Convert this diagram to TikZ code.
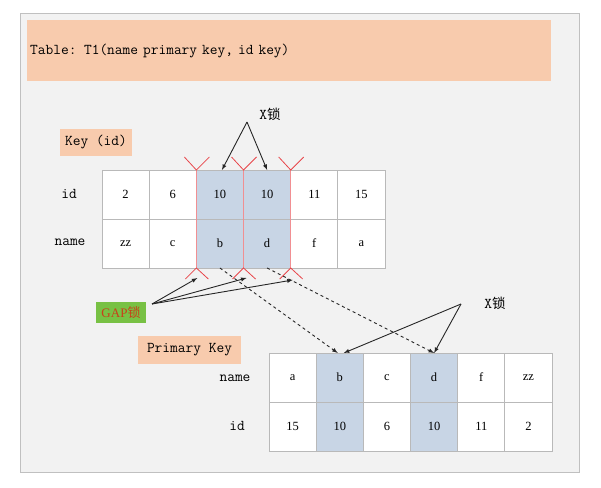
\documentclass[tikz,border=0pt]{standalone}
\usepackage{fontspec}
\setmainfont{Liberation Serif}
\newfontfamily\cjk{Noto Sans CJK SC}
\usepackage{xcolor}
\usepackage{tikz}
\usetikzlibrary{arrows,positioning,calc}

\definecolor{tagorange}{HTML}{F8CBAD}
\definecolor{hlblue}{HTML}{C8D5E5}
\definecolor{gapgreen}{HTML}{78C144}
\definecolor{gapred}{HTML}{C8401A}
\definecolor{markred}{HTML}{E8454A}
\definecolor{framebg}{HTML}{F2F2F2}
\definecolor{framegray}{HTML}{C0C0C0}

\begin{document}
\begin{tikzpicture}[
    x=1pt, y=-1pt,
    tcell/.style={rectangle, draw=gray!55, fill=white, line width=0.8pt, minimum width=47.17pt, minimum height=49pt, inner sep=0pt, outer sep=0pt, font=\fontsize{12.5}{14}\selectfont},
    hlcell/.style={tcell, fill=hlblue},
    tagbox/.style={rectangle, fill=tagorange, inner sep=3pt, font=\ttfamily\fontsize{15}{17}\selectfont},
    rowlabel/.style={inner sep=0pt, font=\ttfamily\fontsize{15}{17}\selectfont},
    gapmark/.style={draw=markred, line width=0.8pt},
    gapline/.style={draw=markred!60, line width=0.6pt},
    arrowline/.style={-latex, line width=0.9pt, black!85},
    dashline/.style={arrowline, dashed}
    ]
    \useasboundingbox (0,0) rectangle (601,487);
    \draw[draw=framegray, fill=framebg] (20,13) rectangle (579,472);

    %Tags
    \node[tagbox, anchor=north west, minimum width=524pt, minimum height=61pt, text width=518pt, align=left] (title) at (27,20) {Table: T1(name primary key, id key)};
    \node[tagbox, minimum width=72pt, minimum height=27pt] (keytag) at (96,142.5) {Key (id)};
    \node[tagbox, minimum width=103pt, minimum height=28pt] (pktag) at (189.5,350) {Primary Key};
    \node[rectangle, fill=gapgreen, minimum width=50pt, minimum height=21pt, inner sep=0pt, text=gapred, font=\fontsize{13}{15}\selectfont] (gaptag) at (121,312.5) {GAP{\cjk 锁}};
    \node[rowlabel] (xtop) at (270,114) {X{\cjk\fontsize{13.5}{15}\selectfont 锁}};
    \node[rowlabel] (xbot) at (495,303) {X{\cjk\fontsize{13.5}{15}\selectfont 锁}};

    %Key (id) table
    \node[tcell]  (kid1)   at (125.6,194.5)        {2};
    \node[tcell]  (kid2)   [right=0pt of kid1]     {6};
    \node[hlcell] (kid3)   [right=0pt of kid2]     {10};
    \node[hlcell] (kid4)   [right=0pt of kid3]     {10};
    \node[tcell]  (kid5)   [right=0pt of kid4]     {11};
    \node[tcell]  (kid6)   [right=0pt of kid5]     {15};
    \node[tcell]  (kname1) [below=0pt of kid1]     {zz};
    \node[tcell]  (kname2) [right=0pt of kname1]   {c};
    \node[hlcell] (kname3) [right=0pt of kname2]   {b};
    \node[hlcell] (kname4) [right=0pt of kname3]   {d};
    \node[tcell]  (kname5) [right=0pt of kname4]   {f};
    \node[tcell]  (kname6) [right=0pt of kname5]   {a};
    \node[rowlabel] (kidlbl)   at (69,194)  {id};
    \node[rowlabel] (knamelbl) at (70,242)  {name};

    %Primary key table
    \node[tcell]  (pname1) at (292.6,377.5)        {a};
    \node[hlcell] (pname2) [right=0pt of pname1]   {b};
    \node[tcell]  (pname3) [right=0pt of pname2]   {c};
    \node[hlcell] (pname4) [right=0pt of pname3]   {d};
    \node[tcell]  (pname5) [right=0pt of pname4]   {f};
    \node[tcell]  (pname6) [right=0pt of pname5]   {zz};
    \node[tcell]  (pid1)   [below=0pt of pname1]   {15};
    \node[hlcell] (pid2)   [right=0pt of pid1]     {10};
    \node[tcell]  (pid3)   [right=0pt of pid2]     {6};
    \node[hlcell] (pid4)   [right=0pt of pid3]     {10};
    \node[tcell]  (pid5)   [right=0pt of pid4]     {11};
    \node[tcell]  (pid6)   [right=0pt of pid5]     {2};
    \node[rowlabel] (pnamelbl) at (235,378) {name};
    \node[rowlabel] (pidlbl)   at (237,426) {id};

    %Gap marks
    \draw[gapline] (kid3.north west) -- (kname3.south west);
    \draw[gapline] (kid4.north west) -- (kname4.south west);
    \draw[gapline] (kid4.north east) -- (kname4.south east);
    \draw[gapmark] ([shift={(-12,-13)}]kid3.north west) -- (kid3.north west) -- ([shift={(13,-13)}]kid3.north west);
    \draw[gapmark] ([shift={(-12,-13)}]kid4.north west) -- (kid4.north west) -- ([shift={(13,-13)}]kid4.north west);
    \draw[gapmark] ([shift={(-12,-13)}]kid4.north east) -- (kid4.north east) -- ([shift={(13,-13)}]kid4.north east);
    \draw[gapmark] ([shift={(-11,11)}]kname3.south west) -- (kname3.south west) -- ([shift={(12,11)}]kname3.south west);
    \draw[gapmark] ([shift={(-11,11)}]kname4.south west) -- (kname4.south west) -- ([shift={(12,11)}]kname4.south west);
    \draw[gapmark] ([shift={(-11,11)}]kname4.south east) -- (kname4.south east) -- ([shift={(12,11)}]kname4.south east);

    %Lines
    \coordinate (xtopfork) at (247,122);
    \coordinate (xbotfork) at (461,304);
    \coordinate (gapfork)  at (152,304);
    \draw[arrowline] (xtopfork) -- ([xshift=2]kid3.north);
    \draw[arrowline] (xtopfork) -- (kid4.north);
    \draw[arrowline] (gapfork)  -- ([shift={(1,10)}]kname3.south west);
    \draw[arrowline] (gapfork)  -- ([shift={(3,10)}]kname4.south west);
    \draw[arrowline] (gapfork)  -- ([shift={(2,12)}]kname4.south east);
    \draw[dashline]  (kname3.south) -- ([xshift=-2]pname2.north);
    \draw[dashline]  (kname4.south) -- (pname4.north);
    \draw[arrowline] (xbotfork) -- ([xshift=4]pname2.north);
    \draw[arrowline] (xbotfork) -- (pname4.north);
\end{tikzpicture}
\end{document}
